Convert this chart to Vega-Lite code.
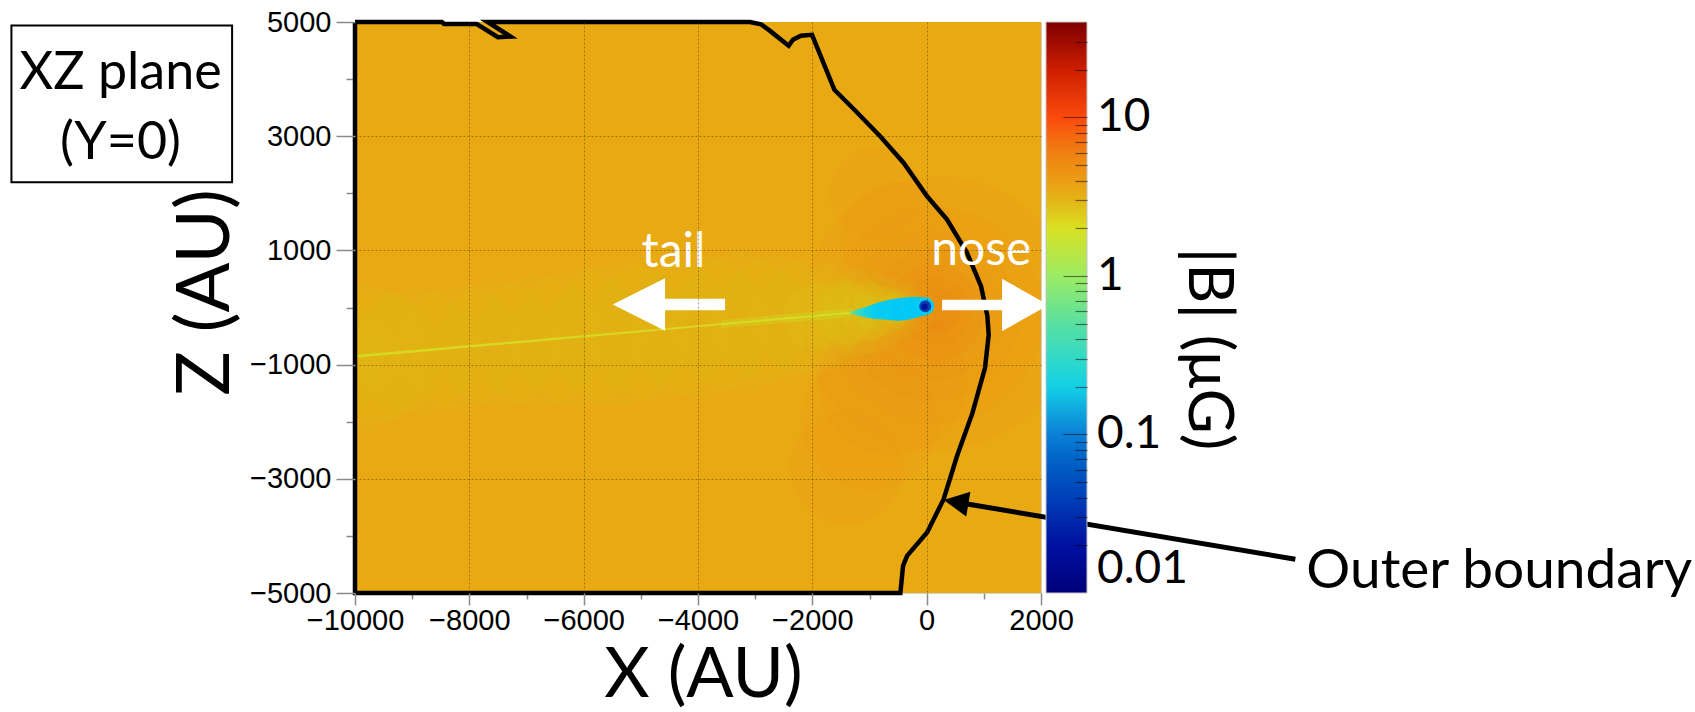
{
  "$schema": "https://vega.github.io/schema/vega-lite/v6.json",
  "width": 686,
  "height": 571,
  "autosize": {"type": "none"},
  "padding": {"left": 355, "top": 22, "right": 654, "bottom": 119},
  "background": "white",
  "config": {"view": {"stroke": "#cfcfcf", "strokeWidth": 1}, "font": "Lato"},
  "datasets": {
    "cells": [
      {"x": -10000, "x2": 2000, "z": -5000, "z2": 5000, "b": 3.4}
    ],
    "glow": [
      {"part": "orange", "x": 200, "z": -100, "r": 2400, "b": 6},
      {"part": "orange", "x": 150, "z": -150, "r": 1900, "b": 6},
      {"part": "orange", "x": 120, "z": -150, "r": 1500, "b": 6},
      {"part": "orange", "x": 130, "z": -120, "r": 1150, "b": 6},
      {"part": "orange", "x": 150, "z": -90, "r": 850, "b": 6.5},
      {"part": "orange", "x": 170, "z": -60, "r": 600, "b": 7},
      {"part": "orange", "x": 190, "z": -40, "r": 400, "b": 8},
      {"part": "orange", "x": -600, "z": -1300, "r": 1300, "b": 6},
      {"part": "orange", "x": -1000, "z": -2000, "r": 1200, "b": 6},
      {"part": "orange", "x": -1400, "z": -2800, "r": 1000, "b": 6},
      {"part": "orange", "x": -500, "z": 1200, "r": 1000, "b": 6},
      {"part": "orange", "x": -900, "z": 2000, "r": 800, "b": 6},
      {"part": "wake", "x": -300, "z": -10, "r": 450, "b": 2.2},
      {"part": "wake", "x": -700, "z": -45, "r": 600, "b": 2.2},
      {"part": "wake", "x": -1100, "z": -80, "r": 750, "b": 2.2},
      {"part": "wake", "x": -1600, "z": -125, "r": 900, "b": 2.2},
      {"part": "wake", "x": -2100, "z": -170, "r": 1000, "b": 2.2},
      {"part": "wake", "x": -2700, "z": -220, "r": 1100, "b": 2.2},
      {"part": "wake", "x": -3300, "z": -270, "r": 1200, "b": 2.2},
      {"part": "wake", "x": -4000, "z": -330, "r": 1250, "b": 2.2},
      {"part": "wake", "x": -4700, "z": -395, "r": 1250, "b": 2.2},
      {"part": "wake", "x": -5400, "z": -455, "r": 1250, "b": 2.2},
      {"part": "wake", "x": -6100, "z": -515, "r": 1200, "b": 2.2},
      {"part": "wake", "x": -6800, "z": -580, "r": 1150, "b": 2.2},
      {"part": "wake", "x": -7500, "z": -640, "r": 1100, "b": 2.2},
      {"part": "wake", "x": -8200, "z": -700, "r": 1100, "b": 2.2},
      {"part": "wake", "x": -8900, "z": -760, "r": 1100, "b": 2.2},
      {"part": "wake", "x": -9600, "z": -830, "r": 1150, "b": 2.2},
      {"part": "wake", "x": -10000, "z": -870, "r": 1300, "b": 2.2},
      {"part": "wake", "x": -10000, "z": -870, "r": 800, "b": 2.2},
      {"part": "wake", "x": -10000, "z": -870, "r": 500, "b": 2.2},
      {"part": "wake", "x": -400, "z": 0, "r": 300, "b": 2.0},
      {"part": "wake", "x": -700, "z": -40, "r": 400, "b": 2.0},
      {"part": "wake", "x": -1000, "z": -70, "r": 500, "b": 2.0},
      {"part": "wake", "x": -1400, "z": -105, "r": 550, "b": 2.0},
      {"part": "wake", "x": -1900, "z": -150, "r": 600, "b": 2.0},
      {"part": "wake", "x": -600, "z": -30, "r": 250, "b": 1.9},
      {"part": "wake", "x": -1000, "z": -70, "r": 300, "b": 1.9},
      {"part": "wake", "x": -500, "z": -20, "r": 350, "b": 2.0},
      {"part": "wake", "x": -800, "z": -50, "r": 450, "b": 2.0},
      {"part": "wake", "x": -1200, "z": -90, "r": 600, "b": 2.0},
      {"part": "wake", "x": -1600, "z": -120, "r": 650, "b": 2.0},
      {"part": "comet", "x": -1300, "z": -92, "r": 35, "b": 0.5},
      {"part": "comet", "x": -1200, "z": -88, "r": 60, "b": 0.35},
      {"part": "comet", "x": -1100, "z": -86, "r": 85, "b": 0.27},
      {"part": "comet", "x": -1000, "z": -80, "r": 110, "b": 0.22},
      {"part": "comet", "x": -900, "z": -70, "r": 135, "b": 0.19},
      {"part": "comet", "x": -800, "z": -55, "r": 155, "b": 0.17},
      {"part": "comet", "x": -700, "z": -48, "r": 170, "b": 0.16},
      {"part": "comet", "x": -600, "z": -42, "r": 185, "b": 0.17},
      {"part": "comet", "x": -500, "z": -36, "r": 198, "b": 0.16},
      {"part": "comet", "x": -400, "z": -25, "r": 200, "b": 0.15},
      {"part": "comet", "x": -300, "z": -10, "r": 195, "b": 0.16},
      {"part": "comet", "x": -200, "z": 5, "r": 185, "b": 0.15},
      {"part": "comet", "x": -100, "z": 15, "r": 170, "b": 0.15},
      {"part": "comet", "x": -23, "z": 23, "r": 155, "b": 0.17},
      {"part": "core", "x": -25, "z": 20, "r": 105, "b": 0.04},
      {"part": "core", "x": -35, "z": 15, "r": 55, "b": 0.02}
    ],
    "tail": [
      {"seg": "far", "x": -1300, "lo": -105, "hi": -75, "b": 1.5},
      {"seg": "far", "x": -10000, "lo": -880, "hi": -830, "b": 1.5},
      {"seg": "near", "x": -1300, "lo": -170, "hi": -10, "b": 1.4},
      {"seg": "near", "x": -3600, "lo": -360, "hi": -225, "b": 1.4}
    ],
    "boundary": [
      {"i": 1, "x": -10000, "z": 5000},
      {"i": 2, "x": -8480, "z": 5000},
      {"i": 3, "x": -8440, "z": 4965},
      {"i": 4, "x": -7870, "z": 4965},
      {"i": 5, "x": -7500, "z": 4735},
      {"i": 6, "x": -7280, "z": 4745},
      {"i": 7, "x": -7680, "z": 5000},
      {"i": 8, "x": -3090, "z": 5000},
      {"i": 9, "x": -2900, "z": 4960},
      {"i": 10, "x": -2734, "z": 4840},
      {"i": 11, "x": -2414, "z": 4583},
      {"i": 12, "x": -2340, "z": 4690},
      {"i": 13, "x": -2200, "z": 4760},
      {"i": 14, "x": -2005, "z": 4775},
      {"i": 15, "x": -1614, "z": 3813},
      {"i": 16, "x": -1264, "z": 3463},
      {"i": 17, "x": -810, "z": 2996},
      {"i": 18, "x": -402, "z": 2531},
      {"i": 19, "x": 7, "z": 1947},
      {"i": 20, "x": 357, "z": 1539},
      {"i": 21, "x": 706, "z": 957},
      {"i": 22, "x": 951, "z": 373},
      {"i": 23, "x": 1062, "z": -150},
      {"i": 24, "x": 1085, "z": -480},
      {"i": 25, "x": 1020, "z": -1060},
      {"i": 26, "x": 800, "z": -1850},
      {"i": 27, "x": 531, "z": -2601},
      {"i": 28, "x": 297, "z": -3358},
      {"i": 29, "x": 7, "z": -3941},
      {"i": 30, "x": -343, "z": -4350},
      {"i": 31, "x": -413, "z": -4525},
      {"i": 32, "x": -460, "z": -5000},
      {"i": 33, "x": -10000, "z": -5000},
      {"i": 34, "x": -10000, "z": 5000}
    ]
  },
  "layer": [
    {
      "layer": [
        {
          "data": {"name": "cells"},
          "mark": {"type": "rect", "opacity": 1},
          "encoding": {
            "x": {
              "field": "x",
              "type": "quantitative",
              "scale": {"domain": [-10000, 2000], "nice": false, "zero": false},
              "axis": {
                "orient": "bottom",
                "values": [-10000, -8000, -6000, -4000, -2000, 0, 2000],
                "format": "d",
                "labelFont": "Liberation Sans",
                "labelFontSize": 29,
                "labelColor": "black",
                "labelPadding": 1,
                "labelFlush": false,
                "labelOverlap": false,
                "tickColor": "#8a8a8a",
                "tickWidth": 1.5,
                "tickSize": 12,
                "grid": true,
                "gridColor": "#4a3500",
                "gridDash": [2, 2],
                "gridWidth": 1,
                "gridOpacity": {"condition": {"test": "datum.value > -10000 && datum.value < 2000", "value": 0.45}, "value": 0},
                "domain": false,
                "zindex": 1,
                "title": "X (AU)",
                "titleFont": "Lato",
                "titleFontSize": 70,
                "titleFontWeight": "normal",
                "titleColor": "black",
                "titleX": 348,
                "titleY": 103,
                "titleAlign": "center",
                "titleBaseline": "alphabetic"
              }
            },
            "x2": {"field": "x2"},
            "y": {
              "field": "z",
              "type": "quantitative",
              "scale": {"domain": [-5000, 5000], "nice": false, "zero": false},
              "axis": {
                "orient": "left",
                "values": [-5000, -3000, -1000, 1000, 3000, 5000],
                "format": "d",
                "labelFont": "Liberation Sans",
                "labelFontSize": 29,
                "labelColor": "black",
                "labelPadding": 5,
                "labelFlush": false,
                "labelOverlap": false,
                "tickColor": "#8a8a8a",
                "tickWidth": 1.5,
                "tickSize": 19,
                "grid": true,
                "gridColor": "#4a3500",
                "gridDash": [2, 2],
                "gridWidth": 1,
                "gridOpacity": {"condition": {"test": "datum.value > -5000 && datum.value < 5000", "value": 0.45}, "value": 0},
                "domain": false,
                "zindex": 1,
                "title": "Z (AU)",
                "titleFont": "Lato",
                "titleFontSize": 74,
                "titleFontWeight": "normal",
                "titleColor": "black",
                "titleAngle": -90,
                "titleX": -127,
                "titleY": 270,
                "titleAlign": "center",
                "titleBaseline": "alphabetic"
              }
            },
            "y2": {"field": "z2"},
            "color": {
              "field": "b",
              "type": "quantitative",
              "scale": {
                "type": "log",
                "domain": [0.01, 0.02, 0.04, 0.07, 0.1, 0.15, 0.25, 0.5, 1, 1.6, 2.4, 3.4, 6, 10, 16, 25, 40],
                "range": ["#00007a", "#0010a0", "#0040b8", "#0064c8", "#0a80d6", "#00c8f8", "#22d6d6", "#58e0a0", "#9cec64", "#d6fa24", "#dcca1e", "#e9a913", "#f08012", "#fb4a0c", "#e52a02", "#b41200", "#7e0000"],
                "interpolate": "rgb",
                "nice": false,
                "zero": false
              },
              "legend": {
                "type": "gradient",
                "orient": "none",
                "legendX": 691,
                "legendY": 0,
                "direction": "vertical",
                "padding": 0,
                "gradientLength": 571,
                "gradientThickness": 41,
                "gradientStrokeColor": "#c4c4c4",
                "gradientStrokeWidth": 1,
                "values": [0.01, 0.1, 1, 10],
                "format": "~g",
                "labelFont": "Lato",
                "labelFontSize": 46,
                "labelColor": "black",
                "labelOffset": 10,
                "labelBaseline": "middle",
                "labelOverlap": false,
                "labelLimit": 200,
                "title": null
              }
            }
          }
        },
        {
          "data": {"name": "glow"},
          "transform": [{"filter": "datum.part === 'orange'"}],
          "mark": {"type": "point", "filled": true, "opacity": 1, "fillOpacity": 0.09, "strokeWidth": 0, "clip": true},
          "encoding": {
            "x": {"field": "x", "type": "quantitative"},
            "y": {"field": "z", "type": "quantitative"},
            "size": {"field": "r", "type": "quantitative", "scale": {"type": "pow", "exponent": 2, "domain": [0, 2500], "range": [0, 81710]}, "legend": null},
            "color": {"field": "b", "type": "quantitative"}
          }
        },
        {
          "data": {"name": "glow"},
          "transform": [{"filter": "datum.part === 'wake'"}],
          "mark": {"type": "point", "filled": true, "opacity": 1, "fillOpacity": 0.07, "strokeWidth": 0, "clip": true},
          "encoding": {
            "x": {"field": "x", "type": "quantitative"},
            "y": {"field": "z", "type": "quantitative"},
            "size": {"field": "r", "type": "quantitative", "legend": null},
            "color": {"field": "b", "type": "quantitative"}
          }
        },
        {
          "data": {"name": "tail"},
          "transform": [{"filter": "datum.seg === 'near'"}],
          "mark": {"type": "area", "opacity": 1, "fillOpacity": 0.22, "clip": true},
          "encoding": {
            "x": {"field": "x", "type": "quantitative"},
            "y": {"field": "lo", "type": "quantitative"},
            "y2": {"field": "hi"},
            "color": {"field": "b", "type": "quantitative"}
          }
        },
        {
          "data": {"name": "tail"},
          "transform": [{"filter": "datum.seg === 'far'"}],
          "mark": {"type": "area", "opacity": 1, "fillOpacity": 0.55, "clip": true},
          "encoding": {
            "x": {"field": "x", "type": "quantitative"},
            "y": {"field": "lo", "type": "quantitative"},
            "y2": {"field": "hi"},
            "color": {"field": "b", "type": "quantitative"}
          }
        },
        {
          "data": {"name": "glow"},
          "transform": [{"filter": "datum.part === 'comet' || datum.part === 'core'"}],
          "mark": {"type": "point", "filled": true, "opacity": 1, "strokeWidth": 0, "clip": true},
          "encoding": {
            "x": {"field": "x", "type": "quantitative"},
            "y": {"field": "z", "type": "quantitative"},
            "size": {"field": "r", "type": "quantitative", "legend": null},
            "color": {"field": "b", "type": "quantitative"}
          }
        },
        {
          "data": {"name": "boundary"},
          "mark": {"type": "line", "color": "black", "strokeWidth": 4.5, "strokeJoin": "miter"},
          "encoding": {
            "x": {"field": "x", "type": "quantitative"},
            "y": {"field": "z", "type": "quantitative"},
            "order": {"field": "i"}
          }
        },
        {
          "data": {"values": [{}]},
          "mark": {"type": "rule", "color": "white", "strokeWidth": 11.4, "strokeCap": "butt"},
          "encoding": {"x": {"datum": -4620}, "x2": {"datum": -3526}, "y": {"datum": 52}}
        },
        {
          "data": {"values": [{}]},
          "mark": {"type": "point", "shape": "M-1,0L1,-1L1,1Z", "size": 2746, "filled": true, "color": "white", "opacity": 1, "strokeWidth": 0},
          "encoding": {"x": {"datum": -5034}, "y": {"datum": 52}}
        },
        {
          "data": {"values": [{}]},
          "mark": {"type": "rule", "color": "white", "strokeWidth": 10.7, "strokeCap": "butt"},
          "encoding": {"x": {"datum": 269}, "x2": {"datum": 1330}, "y": {"datum": 44}}
        },
        {
          "data": {"values": [{}]},
          "mark": {"type": "point", "shape": "M1,0L-1,-1.125L-1,1.125Z", "size": 2172, "filled": true, "color": "white", "opacity": 1, "strokeWidth": 0},
          "encoding": {"x": {"datum": 1726}, "y": {"datum": 44}}
        },
        {
          "data": {"values": [{}]},
          "mark": {"type": "text", "text": "tail", "font": "Lato", "fontSize": 48, "color": "white", "align": "center", "baseline": "alphabetic"},
          "encoding": {"x": {"datum": -4430}, "y": {"datum": 712}}
        },
        {
          "data": {"values": [{}]},
          "mark": {"type": "text", "text": "nose", "font": "Lato", "fontSize": 48, "color": "white", "align": "center", "baseline": "alphabetic"},
          "encoding": {"x": {"datum": 956}, "y": {"datum": 752}}
        },
        {
          "data": {"values": [{}]},
          "mark": {"type": "rule", "color": "black", "strokeWidth": 5, "strokeCap": "butt"},
          "encoding": {"x": {"datum": 500}, "y": {"datum": -3406}, "x2": {"datum": 6449}, "y2": {"datum": -4408}}
        },
        {
          "data": {"values": [{}]},
          "mark": {"type": "point", "shape": "M-1,0L1,-1L1,1Z", "size": 625, "angle": 9.57, "filled": true, "color": "black", "opacity": 1, "strokeWidth": 0},
          "encoding": {"x": {"datum": 513}, "y": {"datum": -3408}}
        },
        {
          "data": {"values": [{}]},
          "mark": {"type": "text", "text": "Outer boundary", "font": "Lato", "fontSize": 55, "color": "black", "align": "left", "baseline": "alphabetic"},
          "encoding": {"x": {"datum": 6642}, "y": {"datum": -4915}}
        },
        {
          "data": {"values": [{}]},
          "mark": {"type": "text", "text": "|B| (μG)", "font": "Lato", "fontSize": 62, "color": "black", "align": "center", "baseline": "alphabetic", "angle": 90},
          "encoding": {"x": {"datum": 4595}, "y": {"datum": -727}}
        },
        {
          "data": {"values": [{}]},
          "mark": {"type": "rect", "fillOpacity": 0, "stroke": "black", "strokeWidth": 2},
          "encoding": {"x": {"datum": -16010}, "x2": {"datum": -12150}, "y": {"datum": 4938}, "y2": {"datum": 2192}}
        },
        {
          "data": {"values": [{}]},
          "mark": {"type": "text", "text": "XZ plane", "font": "Lato", "fontSize": 52, "color": "black", "align": "center", "baseline": "alphabetic"},
          "encoding": {"x": {"datum": -14101}, "y": {"datum": 3825}}
        },
        {
          "data": {"values": [{}]},
          "mark": {"type": "text", "text": "(Y=0)", "font": "Lato", "fontSize": 52, "color": "black", "align": "center", "baseline": "alphabetic"},
          "encoding": {"x": {"datum": -14101}, "y": {"datum": 2601}}
        }
      ]
    },
    {
      "data": {"values": [{"bv": 0.01}, {"bv": 40}]},
      "mark": {"type": "point", "opacity": 0},
      "encoding": {
        "y": {
          "field": "bv",
          "type": "quantitative",
          "scale": {"type": "log", "domain": [0.01, 40], "nice": false},
          "axis": {
            "orient": "right",
            "offset": 46,
            "title": null,
            "domain": false,
            "labels": false,
            "grid": false,
            "values": [0.02, 0.03, 0.04, 0.05, 0.06, 0.07, 0.08, 0.09, 0.1, 0.2, 0.3, 0.4, 0.5, 0.6, 0.7, 0.8, 0.9, 1, 2, 3, 4, 5, 6, 7, 8, 9, 10, 20, 30],
            "tickColor": "#000000",
            "tickOpacity": 0.5,
            "tickWidth": 1.2,
            "tickSize": {"condition": {"test": "datum.value === 0.1 || datum.value === 1 || datum.value === 10", "value": -24}, "value": -12},
            "zindex": 2
          }
        }
      }
    },
    {
      "data": {"values": [{"mx": -10000, "mz": -5000}, {"mx": 2000, "mz": 5000}]},
      "mark": {"type": "point", "opacity": 0},
      "encoding": {
        "x": {
          "field": "mx",
          "type": "quantitative",
          "scale": {"domain": [-10000, 2000], "nice": false, "zero": false},
          "axis": {
            "orient": "bottom",
            "title": null,
            "domain": false,
            "labels": false,
            "grid": false,
            "values": [-9000, -7000, -5000, -3000, -1000, 1000],
            "tickColor": "#8a8a8a",
            "tickWidth": 1.5,
            "tickSize": 6
          }
        },
        "y": {
          "field": "mz",
          "type": "quantitative",
          "scale": {"domain": [-5000, 5000], "nice": false, "zero": false},
          "axis": {
            "orient": "left",
            "title": null,
            "domain": false,
            "labels": false,
            "grid": false,
            "values": [-4000, -2000, 0, 2000, 4000],
            "tickColor": "#8a8a8a",
            "tickWidth": 1.5,
            "tickSize": 9
          }
        }
      }
    }
  ],
  "resolve": {"scale": {"x": "independent", "y": "independent"}, "axis": {"x": "independent", "y": "independent"}}
}
